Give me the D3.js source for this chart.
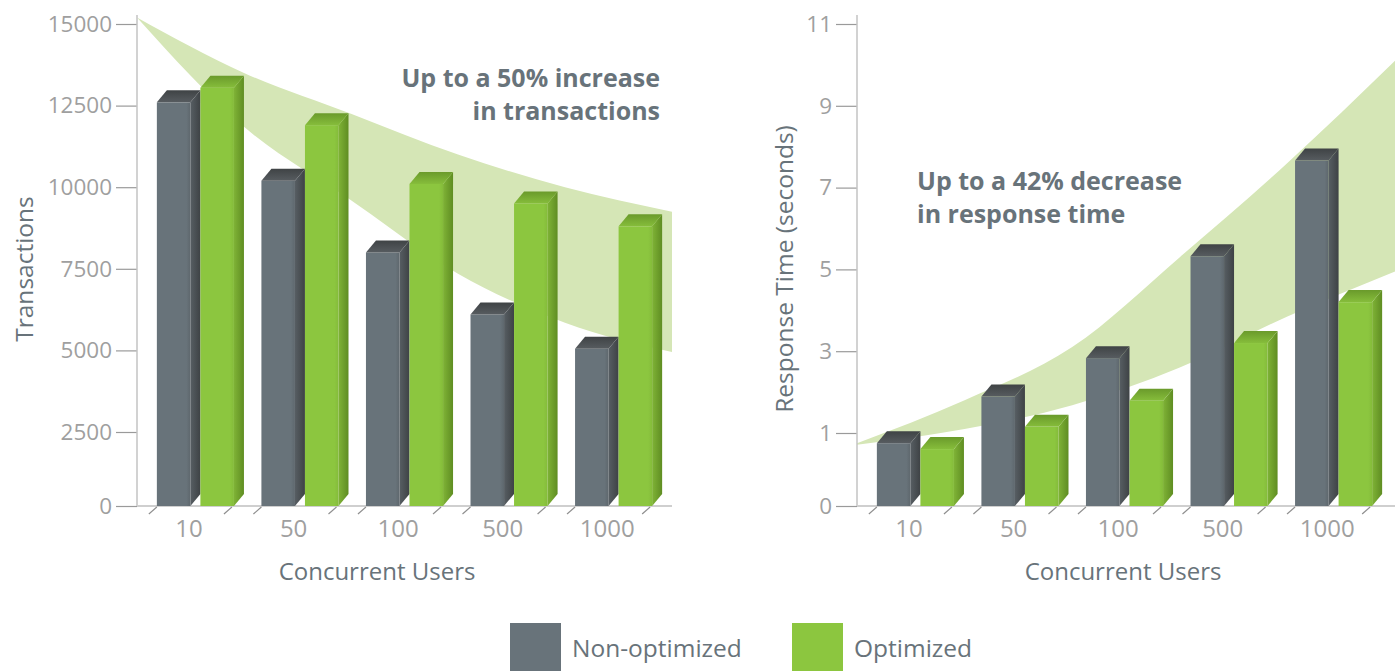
<!DOCTYPE html>
<html><head><meta charset="utf-8">
<script src="https://cdn.jsdelivr.net/npm/d3@7/dist/d3.min.js"></script>
<style>
html,body{margin:0;padding:0;background:#fff;}
svg{display:block;font-family:"Open Sans",sans-serif;}
</style></head>
<body><svg id="chart" width="1395" height="671"></svg>
<script>
// ---------- data ----------
const categories = ["10", "50", "100", "500", "1000"];
const series = ["Non-optimized", "Optimized"];
const transNonOpt = [12600, 10200, 8000, 6100, 5050];
const transOpt = [13050, 11900, 10100, 9500, 8800];
const respNonOpt = [0.86, 1.89, 2.83, 5.32, 7.66];
const respOpt = [0.78, 1.15, 1.79, 3.20, 4.20];
const transTicks = [0, 2500, 5000, 7500, 10000, 12500, 15000];
const respTicks = [0, 1, 3, 5, 7, 9, 11];
const bandPos = [0, 1, 2, 3, 4, 5];
const transBandUpper = [15200, 13500, 12250, 11000, 10000, 9250];
const transBandLower = [15200, 11850, 9600, 7350, 5850, 4950];
const respBandUpper = [0.86, 1.80, 3.10, 5.30, 7.60, 10.10];
const respBandLower = [0.84, 1.10, 1.68, 2.60, 3.85, 4.95];

// ---------- styles ----------
const GRAY = "#68737a", GREEN = "#8cc63f", BAND = "#d5e6b6";
const TEXT = "#68737a", TICK = "#9f9f9f", AXIS = "#c3c3c3";
const DX = 10, DY = 12;

const svg = d3.select("#chart");
const defs = svg.append("defs");
function lg(id, x2, y2, stops) {
  const g = defs.append("linearGradient").attr("id", id)
    .attr("x1", 0).attr("y1", 0).attr("x2", x2).attr("y2", y2);
  stops.forEach(s => g.append("stop").attr("offset", s[0]).attr("stop-color", s[1]));
}
lg("gSide", 1, 0, [[0, "#575e63"], [1, "#3e4245"]]);
lg("gTop", 0, 1, [[0, "#3f4345"], [1, "#575c60"]]);
lg("gFront", 1, 0, [[0, "#68737a"], [0.88, "#68737a"], [1, "#5e676d"]]);
lg("nSide", 1, 0, [[0, "#7fb336"], [1, "#5f8d22"]]);
lg("nTop", 0, 1, [[0, "#6a9a2b"], [1, "#86bd3b"]]);
lg("nFront", 1, 0, [[0, "#8cc63f"], [0.88, "#8cc63f"], [1, "#84bb3a"]]);
const fills = {
  "Non-optimized": {front: "url(#gFront)", side: "url(#gSide)", top: "url(#gTop)"},
  "Optimized": {front: "url(#nFront)", side: "url(#nSide)", top: "url(#nTop)"}
};

function drawChart(opt) {
  const g = svg.append("g");
  const x0p = opt.xRange[0], x1p = opt.xRange[1];
  const x = d3.scaleBand().domain(categories).range([x0p, x0p + opt.barSpan])
    .paddingInner(0.167).paddingOuter(0.19);
  const xs = d3.scaleBand().domain(series).range([0, x.bandwidth()]);
  const xt = d3.scaleLinear().domain([0, 5]).range(opt.xRange);
  const y = opt.y;
  const base = y(0);

  // band
  const area = d3.area()
    .x((d, i) => xt(bandPos[i]))
    .y0((d, i) => y(opt.bandLower[i]))
    .y1((d, i) => y(opt.bandUpper[i]))
    .curve(d3.curveMonotoneX);
  g.append("path").attr("d", area(bandPos)).attr("fill", BAND);

  // y axis
  const ax = g.append("g").attr("transform", `translate(${x0p},0)`)
    .call(d3.axisLeft(y).tickValues(opt.ticks).tickFormat(d3.format("d"))
      .tickSize(21).tickSizeOuter(0).tickPadding(4));
  ax.select(".domain").remove();
  ax.selectAll(".tick line").attr("stroke", "#9a9a9a").attr("stroke-width", 1.2);
  ax.selectAll(".tick text").attr("fill", TICK).attr("font-size", 22.5)
    .attr("font-family", "'Open Sans', sans-serif").attr("font-weight", 400);
  g.append("line").attr("x1", x0p).attr("x2", x0p)
    .attr("y1", y(opt.ticks[opt.ticks.length - 1]) - 9).attr("y2", base)
    .attr("stroke", AXIS).attr("stroke-width", 1.5);
  // baseline
  g.append("line").attr("x1", x0p).attr("x2", x1p)
    .attr("y1", base).attr("y2", base).attr("stroke", "#cfcfcf").attr("stroke-width", 2);

  // floor ticks
  categories.forEach(c => {
    [x(c), x(c) + x.bandwidth() - 12].forEach(tx => {
      g.append("line").attr("x1", tx).attr("y1", base + 1).attr("x2", tx - 8).attr("y2", base + 8)
        .attr("stroke", "#8f8f8f").attr("stroke-width", 1.2);
    });
  });

  // bars
  const vals = {"Non-optimized": opt.a, "Optimized": opt.b};
  categories.forEach((c, i) => {
    series.forEach(s => {
      const bx = x(c) + xs(s), w = xs.bandwidth() - DX;
      const yt = y(vals[s][i]);
      const f = fills[s];
      g.append("rect").attr("x", bx).attr("y", yt).attr("width", w).attr("height", base - yt).attr("fill", f.front);
      g.append("path").attr("d", `M${bx + w},${yt}L${bx + w + DX},${yt - DY}L${bx + w + DX},${base - DY}L${bx + w},${base}Z`).attr("fill", f.side);
      g.append("path").attr("d", `M${bx},${yt}L${bx + DX},${yt - DY}L${bx + w + DX},${yt - DY}L${bx + w},${yt}Z`).attr("fill", f.top);
    });
    g.append("text").attr("x", x(c) + x.bandwidth() * 0.37).attr("y", base + 31)
      .attr("text-anchor", "middle").attr("fill", TICK).attr("font-size", 24)
      .text(c);
  });

  // axis titles
  g.append("text").attr("x", opt.xTitleX).attr("y", 580)
    .attr("text-anchor", "middle").attr("fill", TEXT).attr("font-size", 24).text("Concurrent Users");
  g.append("text").attr("transform", `translate(${opt.yTitleX},${269}) rotate(-90)`)
    .attr("text-anchor", "middle").attr("fill", TEXT).attr("font-size", 24.5).text(opt.yTitle);

  // annotation
  const an = g.append("text").attr("fill", TEXT).attr("font-size", 25).attr("font-weight", 700)
    .attr("text-anchor", opt.annAnchor);
  opt.ann.forEach((t, k) => an.append("tspan").attr("x", opt.annX).attr("y", opt.annY + k * 33).text(t));
}

drawChart({
  xRange: [137, 672], barSpan: 545,
  y: d3.scaleLinear().domain([0, 2500, 15000]).range([506, 432, 24]),
  ticks: transTicks, a: transNonOpt, b: transOpt,
  bandUpper: transBandUpper, bandLower: transBandLower,
  yTitle: "Transactions", yTitleX: 33, xTitleX: 377,
  ann: ["Up to a 50% increase", "in transactions"], annX: 660, annY: 87, annAnchor: "end"
});
drawChart({
  xRange: [857, 1395], barSpan: 545,
  y: d3.scaleLinear().domain([0, 1, 11]).range([506, 433, 24]),
  ticks: respTicks, a: respNonOpt, b: respOpt,
  bandUpper: respBandUpper, bandLower: respBandLower,
  yTitle: "Response Time (seconds)", yTitleX: 793, xTitleX: 1123,
  ann: ["Up to a 42% decrease", "in response time"], annX: 917, annY: 190, annAnchor: "start"
});

// legend
const leg = svg.append("g");
series.forEach((s, i) => {
  const lx = [510, 792][i];
  leg.append("rect").attr("x", lx).attr("y", 623).attr("width", 51).attr("height", 51)
    .attr("fill", i === 0 ? GRAY : GREEN);
  leg.append("text").attr("x", lx + 62).attr("y", 657).attr("fill", TEXT).attr("font-size", 24.5).text(s);
});
</script></body></html>
